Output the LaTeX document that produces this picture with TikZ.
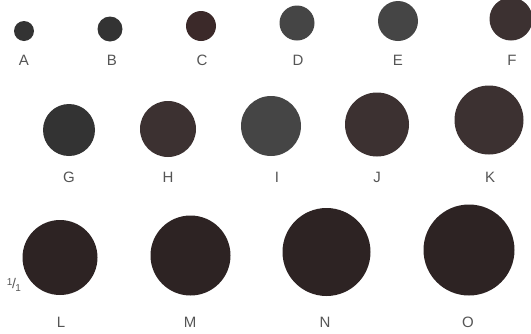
\documentclass[tikz,border=0pt]{standalone}
\usepackage{fontspec}
\setmainfont{Liberation Sans}
\definecolor{dotA}{HTML}{333333}
\definecolor{dotC}{HTML}{3B2929}
\definecolor{dotD}{HTML}{454545}
\definecolor{dotH}{HTML}{3C3131}
\definecolor{dotL}{HTML}{2D2323}
\definecolor{lab}{HTML}{555555}
\tikzset{
  dot/.style={circle, inner sep=0pt, draw=none},
  lbl/.style={font=\fontsize{15}{16}\selectfont, text=lab, inner sep=0pt, anchor=center}
}
\begin{document}
\begin{tikzpicture}[x=1pt,y=-1pt]
\useasboundingbox (0,0) rectangle (531,333);
\clip (0,0) rectangle (531,333);
\fill[white] (0,0) rectangle (531,333);
% row 1
\node[dot, fill=dotA, minimum size=20pt] (A) at (24,31) {};
\node[dot, fill=dotA, minimum size=25pt] (B) at (110,29) {};
\node[dot, fill=dotC, minimum size=30pt] (C) at (201,26) {};
\node[dot, fill=dotD, minimum size=35pt] (D) at (297,23) {};
\node[dot, fill=dotD, minimum size=40pt] (E) at (398,21) {};
\node[dot, fill=dotH, minimum size=43pt] (F) at (511,19) {};
\node[lbl] (lA) at (24,60) {A};
\node[lbl] (lB) at (112,60) {B};
\node[lbl] (lC) at (202,60) {C};
\node[lbl] (lD) at (298,60) {D};
\node[lbl] (lE) at (398,60) {E};
\node[lbl] (lF) at (512,60) {F};
% row 2
\node[dot, fill=dotA, minimum size=52pt] (G) at (69,130) {};
\node[dot, fill=dotH, minimum size=56pt] (H) at (168,129) {};
\node[dot, fill=dotD, minimum size=60pt] (I) at (271,126) {};
\node[dot, fill=dotH, minimum size=64pt] (J) at (377,124.5) {};
\node[dot, fill=dotH, minimum size=69pt] (K) at (489,120) {};
\node[lbl] (lG) at (69,177) {G};
\node[lbl] (lH) at (168,177) {H};
\node[lbl] (lI) at (277,177) {I};
\node[lbl] (lJ) at (377,177) {J};
\node[lbl] (lK) at (490,177) {K};
% row 3
\node[dot, fill=dotL, minimum size=75pt] (L) at (60,257.5) {};
\node[dot, fill=dotL, minimum size=80pt] (M) at (190.5,255.5) {};
\node[dot, fill=dotL, minimum size=88pt] (N) at (326.5,252) {};
\node[dot, fill=dotL, minimum size=91pt] (O) at (469,250) {};
\node[lbl] (lL) at (61,322) {L};
\node[lbl] (lM) at (190,322) {M};
\node[lbl] (lN) at (325,322) {N};
\node[lbl] (lO) at (468,322) {O};
\node[lbl] (frac) at (14,285) {\raisebox{3.5pt}{\fontsize{10}{10}\selectfont 1}\kern-0.5pt{\fontsize{14}{14}\selectfont /}\kern-0.5pt\raisebox{-3pt}{\fontsize{10}{10}\selectfont 1}};
\end{tikzpicture}
\end{document}
